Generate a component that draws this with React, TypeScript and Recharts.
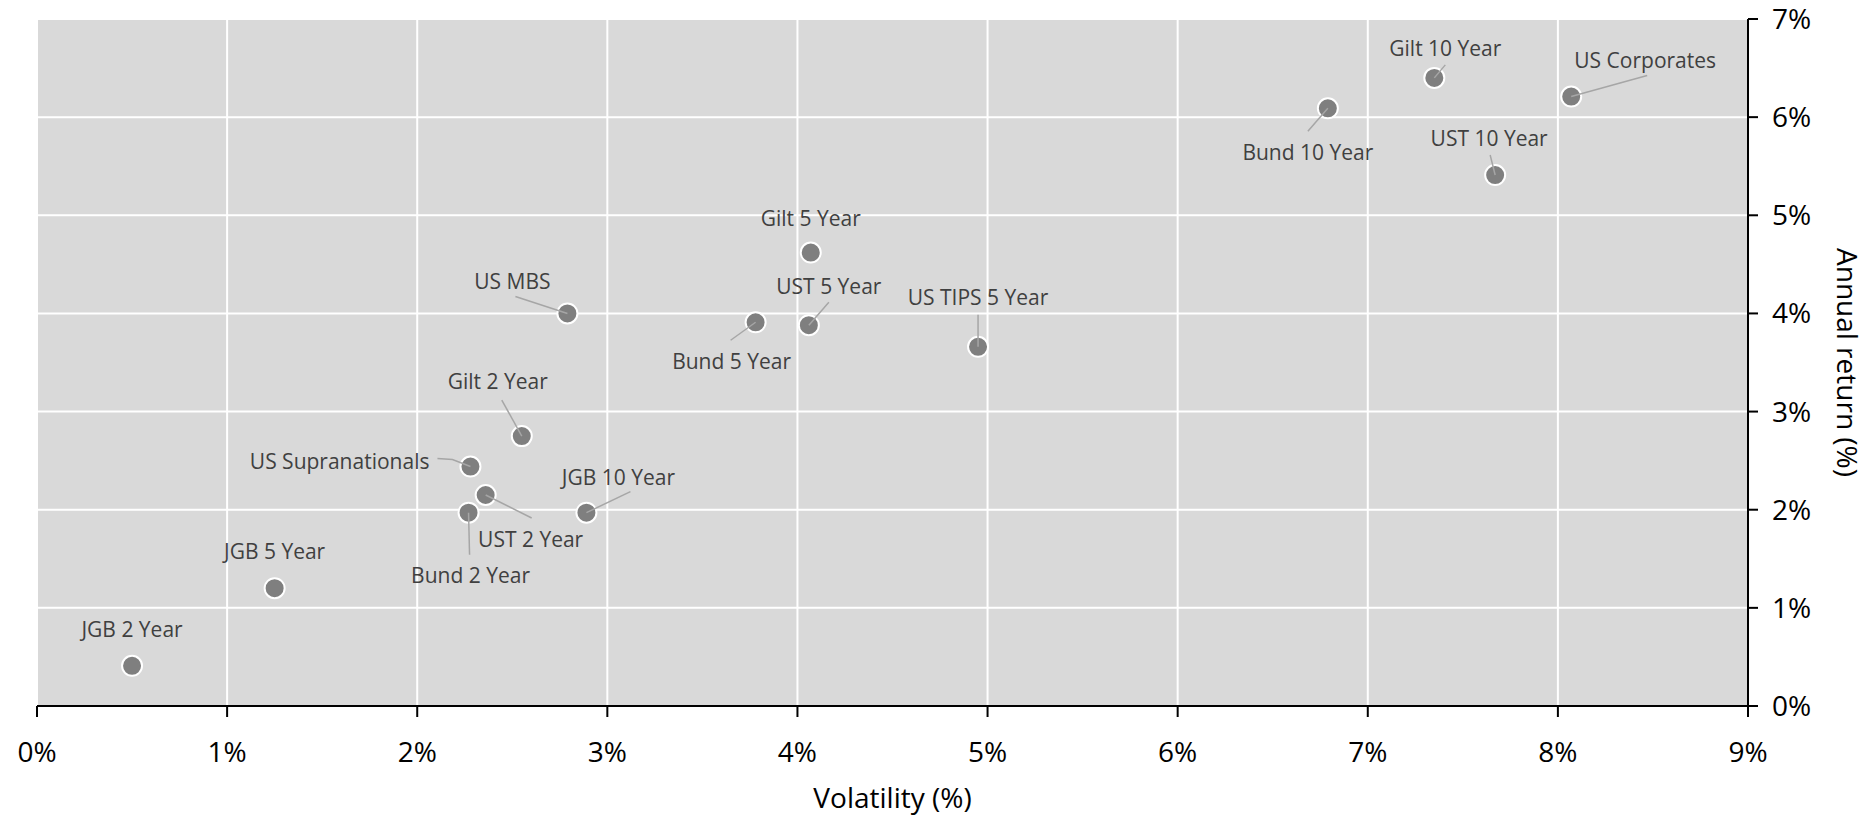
import React from 'react';
import { ScatterChart, Scatter, XAxis, YAxis, CartesianGrid } from 'recharts';

const names = [
  'JGB 2 Year', 'JGB 5 Year', 'Bund 2 Year', 'UST 2 Year', 'US Supranationals',
  'Gilt 2 Year', 'JGB 10 Year', 'US MBS', 'Bund 5 Year', 'UST 5 Year',
  'Gilt 5 Year', 'US TIPS 5 Year', 'Bund 10 Year', 'Gilt 10 Year', 'UST 10 Year',
  'US Corporates',
];
const volatility = [0.5, 1.25, 2.27, 2.36, 2.28, 2.55, 2.89, 2.79, 3.78, 4.06, 4.07, 4.95, 6.79, 7.35, 7.67, 8.07];
const annualReturn = [0.41, 1.2, 1.97, 2.15, 2.44, 2.75, 1.97, 4.0, 3.91, 3.88, 4.62, 3.66, 6.09, 6.4, 5.41, 6.21];

const xTicks = [0, 1, 2, 3, 4, 5, 6, 7, 8, 9];
const yTicks = [0, 1, 2, 3, 4, 5, 6, 7];

const data = names.map((name, i) => ({ name, x: volatility[i], y: annualReturn[i] }));

// where each label sits relative to its dot (px), plus leader line points
type Placement = { tx: number; ty: number; anchor?: 'start' | 'middle' | 'end'; line?: number[][] };
const labelOffsets: Record<string, Placement> = {
  'JGB 2 Year': { tx: 0, ty: -37 },
  'JGB 5 Year': { tx: 0, ty: -37 },
  'Bund 2 Year': { tx: 2, ty: 62, line: [[1, 42]] },
  'UST 2 Year': { tx: 45, ty: 44, line: [[46, 23]] },
  'US Supranationals': { tx: -41, ty: -6, anchor: 'end', line: [[-18, -7], [-33, -8]] },
  'Gilt 2 Year': { tx: -24, ty: -55, line: [[-20, -36]] },
  'JGB 10 Year': { tx: 32, ty: -36, line: [[44, -21]] },
  'US MBS': { tx: -55, ty: -32, line: [[-52, -17]] },
  'Bund 5 Year': { tx: -24, ty: 39, line: [[-25, 18]] },
  'UST 5 Year': { tx: 20, ty: -39, line: [[20, -23]] },
  'Gilt 5 Year': { tx: 0, ty: -35 },
  'US TIPS 5 Year': { tx: 0, ty: -50, line: [[0, -32]] },
  'Bund 10 Year': { tx: -20, ty: 44, line: [[-20, 23]] },
  'Gilt 10 Year': { tx: 11, ty: -30, line: [[11, -13]] },
  'UST 10 Year': { tx: -6, ty: -37, line: [[-5, -20]] },
  'US Corporates': { tx: 74, ty: -37, line: [[76, -21]] },
};

const FONT = '"Open Sans", "Noto Sans", sans-serif';

const LabelledDot = (props: any) => {
  const { cx, cy, payload } = props;
  const o = labelOffsets[payload.name] || { tx: 0, ty: -35 };
  const pts = o.line ? [[0, 0], ...o.line].map(([dx, dy]) => `${cx + dx},${cy + dy}`).join(' ') : null;
  return (
    <g>
      <circle cx={cx} cy={cy} r={10} fill="#7f7f7f" stroke="#ffffff" strokeWidth={2} />
      {pts && <polyline points={pts} fill="none" stroke="#a6a6a6" strokeWidth={1.5} />}
      <text
        x={cx + o.tx}
        y={cy + o.ty}
        textAnchor={o.anchor || 'middle'}
        dominantBaseline="central"
        fontSize={21}
        fontFamily={FONT}
        fill="#404040"
      >
        {payload.name}
      </text>
    </g>
  );
};

const XTitle = ({ viewBox }: any) => (
  <text
    x={viewBox.x + viewBox.width / 2}
    y={797}
    textAnchor="middle"
    dominantBaseline="central"
    fontSize={28}
    fontFamily={FONT}
    fill="#000"
  >
    Volatility (%)
  </text>
);

const YTitle = ({ viewBox }: any) => {
  const x = 1848;
  const y = viewBox.y + viewBox.height / 2;
  return (
    <text
      x={x}
      y={y}
      transform={`rotate(90, ${x}, ${y})`}
      textAnchor="middle"
      dominantBaseline="central"
      fontSize={28}
      fontFamily={FONT}
      fill="#000"
    >
      Annual return (%)
    </text>
  );
};

const App = () => {
  return (
    <div style={{ position: 'absolute', left: 0, top: 0, background: '#fff' }}>
      <ScatterChart
        width={1870}
        height={819}
        margin={{ top: 19, left: 37, right: 42, bottom: 53 }}
        style={{ fontFamily: FONT }}
      >
        <CartesianGrid fill="#d9d9d9" stroke="#ffffff" strokeWidth={2} />
        <XAxis
          type="number"
          dataKey="x"
          domain={[0, 9]}
          ticks={xTicks}
          tickFormatter={(v) => `${v}%`}
          axisLine={{ stroke: '#000', strokeWidth: 2 }}
          tickLine={{ stroke: '#000', strokeWidth: 2 }}
          tickSize={11}
          tickMargin={25}
          tick={{ fontSize: 28, fill: '#000', fontFamily: FONT }}
          height={60}
          interval={0}
          label={{ content: XTitle }}
        />
        <YAxis
          type="number"
          dataKey="y"
          orientation="right"
          domain={[0, 7]}
          ticks={yTicks}
          tickFormatter={(v) => `${v}%`}
          axisLine={{ stroke: '#000', strokeWidth: 2 }}
          tickLine={{ stroke: '#000', strokeWidth: 2 }}
          tickSize={10}
          tickMargin={14}
          tick={{ fontSize: 28, fill: '#000', fontFamily: FONT }}
          width={80}
          interval={0}
          label={{ content: YTitle }}
        />
        <Scatter data={data} shape={LabelledDot} isAnimationActive={false} />
      </ScatterChart>
    </div>
  );
};

export default App;
